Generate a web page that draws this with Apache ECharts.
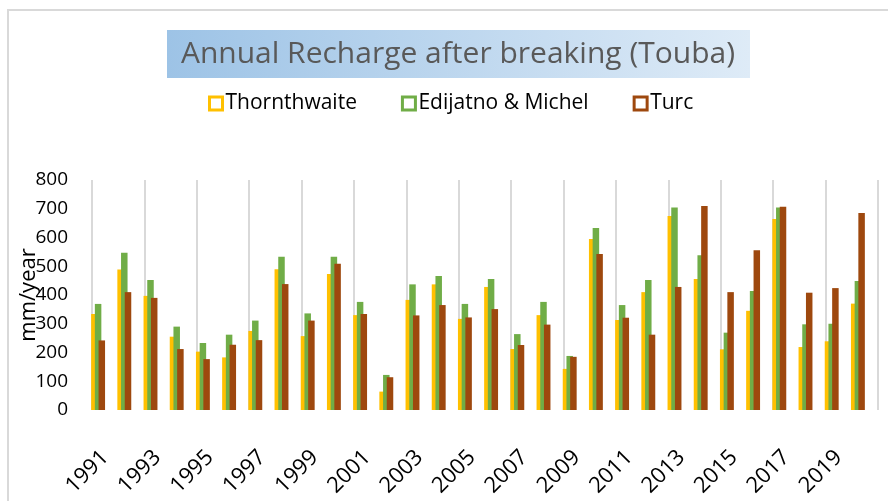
<!DOCTYPE html>
<html><head><meta charset="utf-8">
<script src="https://cdn.jsdelivr.net/npm/echarts@6/dist/echarts.min.js"></script>
<style>html,body{margin:0;padding:0;background:#fff}#c{width:888px;height:501px}</style>
</head><body><div id="c"></div><script>
const years = ['1991','1992','1993','1994','1995','1996','1997','1998','1999','2000','2001','2002','2003','2004','2005','2006','2007','2008','2009','2010','2011','2012','2013','2014','2015','2016','2017','2018','2019','2020'];
const thornthwaite = [334,489,397,255,203,183,275,490,257,473,330,64,383,437,317,428,212,330,143,595,313,410,675,456,211,345,664,219,239,370];
const edijatno     = [369,547,452,290,233,262,311,533,336,533,376,122,437,466,369,456,264,376,188,633,365,452,704,538,269,414,704,298,300,449];
const turc         = [242,410,390,212,177,227,243,438,311,509,334,114,329,365,322,351,226,297,185,543,321,262,428,710,410,556,707,408,424,685];
const seriesNames = ['Thornthwaite','Edijatno & Michel','Turc'];
const seriesColors = ['#FFC000','#70AD47','#9E480E'];
const yMin = 0, yMax = 800, yStep = 100;

const chart = echarts.init(document.getElementById('c'));
const font = 'Open Sans';
const mk = (i, data) => ({
  name: seriesNames[i], type: 'bar', xAxisIndex: 0, yAxisIndex: 0,
  data: data, barWidth: 6.5, barGap: '-43%',
  itemStyle: {color: seriesColors[i]}, animation: false
});
chart.setOption({
  animation: false,
  graphic: [
    {type: 'polyline', shape: {points: [[8,501],[8,10],[888,10]]}, style: {stroke: '#D9D9D9', lineWidth: 2, fill: null}, z: 0},
    {type: 'rect', shape: {x: 167, y: 30, width: 583, height: 48},
     style: {fill: new echarts.graphic.LinearGradient(0,0,1,0,[{offset:0,color:'#9DC3E6'},{offset:1,color:'#DEEBF7'}])}, z: 0}
  ],
  title: {text: 'Annual Recharge after breaking (Touba)', left: 458, top: 39, textAlign: 'center', padding: 0,
    textStyle: {fontFamily: font, fontSize: 30, fontWeight: 'normal', color: '#595959'}},
  legend: {
    data: seriesNames.map((n, i) => ({name: n, itemStyle: {color: '#fff', borderColor: seriesColors[i], borderWidth: 3}})),
    left: 203, top: 88, itemWidth: 13, itemHeight: 13, itemGap: 44, icon: 'rect',
    textStyle: {fontFamily: font, fontSize: 21, color: '#000', padding: [0,0,0,-2]}},
  grid: [
    {left: 85, right: 17, top: 180, bottom: 91, outerBoundsMode: 'none', containLabel: false},
    {left: 92, right: 10, top: 180, bottom: 91, outerBoundsMode: 'none', containLabel: false}
  ],
  xAxis: [
    {type: 'category', gridIndex: 0, data: years, show: false},
    {type: 'category', gridIndex: 1, data: years,
     axisLine: {show: false}, axisTick: {show: false},
     axisLabel: {interval: 1, rotate: 45, margin: 44, fontFamily: font, fontSize: 22, color: '#000'},
     splitLine: {show: true, interval: 1, lineStyle: {color: '#D9D9D9', width: 2}}}
  ],
  yAxis: [
    {type: 'value', gridIndex: 0, min: yMin, max: yMax, interval: yStep, show: false},
    {type: 'value', gridIndex: 1, min: yMin, max: yMax, interval: yStep,
     name: 'mm/year', nameLocation: 'middle', nameRotate: 90, nameGap: 52, nameMoveOverlap: false,
     nameTextStyle: {fontFamily: font, fontSize: 22, color: '#000'},
     axisLine: {show: false}, axisTick: {show: false}, splitLine: {show: false},
     axisLabel: {margin: 24, fontFamily: font, fontSize: 19, color: '#000'}}
  ],
  series: [mk(0, thornthwaite), mk(1, edijatno), mk(2, turc)]
});
</script></body></html>
